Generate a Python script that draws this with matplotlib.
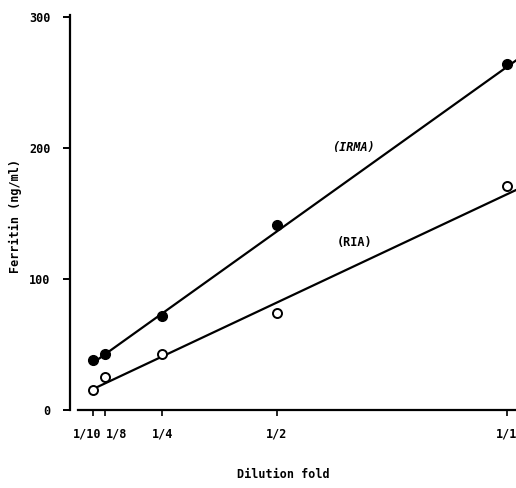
import matplotlib

matplotlib.use("Agg")
import matplotlib.pyplot as plt
import matplotlib.transforms as mtransforms


dilution = [0.1, 0.125, 0.25, 0.5, 1.0]
dilution_labels = ["1/10", "1/8", "1/4", "1/2", "1/1"]
irma = [38, 43, 72, 141, 264]
ria = [15, 25, 43, 74, 171]
# fitted lines as drawn on the original
irma_line_x = [0.1, 1.02]
irma_line_y = [36, 267]
ria_line_x = [0.1, 1.02]
ria_line_y = [16, 168]
y_ticks = [0, 100, 200, 300]

FONT = "DejaVu Sans Mono"


def main():
    fig = plt.figure(figsize=(5.16, 4.88), dpi=100)
    ax = fig.add_axes([0.136, 0.16, 0.864, 0.81])

    ax.plot(irma_line_x, irma_line_y, color="black", lw=1.6)
    ax.plot(ria_line_x, ria_line_y, color="black", lw=1.6)
    ax.plot(dilution, irma, "o", color="black", ms=7, mfc="black")
    ax.plot(dilution, ria, "o", color="black", ms=6.5, mfc="white", mew=1.4)

    ax.set_xlim(0.05, 1.02)
    ax.set_ylim(0, 302)
    for side in ["top", "right"]:
        ax.spines[side].set_visible(False)
    ax.spines["left"].set_linewidth(1.6)
    ax.spines["bottom"].set_linewidth(1.6)
    ax.spines["bottom"].set_bounds(0.068, 1.02)

    ax.set_yticks(y_ticks)
    ax.set_yticklabels([str(v) for v in y_ticks], fontfamily=FONT, fontweight="bold", fontsize=8.5)
    ax.set_xticks(dilution)
    ax.set_xticklabels(dilution_labels, fontfamily=FONT, fontweight="bold", fontsize=8.5)
    ax.tick_params(axis="y", direction="out", length=5, width=1.4, pad=9)
    ax.tick_params(axis="x", direction="out", length=4, width=1.2, pad=9)

    # spread the crowded 1/10 and 1/8 labels apart, as on the original
    shifts = {"1/10": -6, "1/8": 12}
    for label in ax.get_xticklabels():
        dx = shifts.get(label.get_text(), 0)
        if dx:
            label.set_transform(label.get_transform() + mtransforms.ScaledTranslation(dx / 100, 0, fig.dpi_scale_trans))

    ax.set_ylabel("Ferritin (ng/ml)", fontfamily=FONT, fontweight="bold", fontsize=8.5)
    ax.yaxis.set_label_coords(-0.108, 0.49)
    ax.set_xlabel("Dilution fold", fontfamily=FONT, fontweight="bold", fontsize=8.5)
    ax.xaxis.set_label_coords(0.478, -0.147)

    ax.text(0.62, 198, "(IRMA)", fontfamily=FONT, fontweight="bold", fontstyle="italic", fontsize=8.5)
    ax.text(0.63, 125, "(RIA)", fontfamily=FONT, fontweight="bold", fontsize=8.5)

    fig.savefig("out.png", dpi=100)
    plt.close(fig)


if __name__ == "__main__":
    main()
